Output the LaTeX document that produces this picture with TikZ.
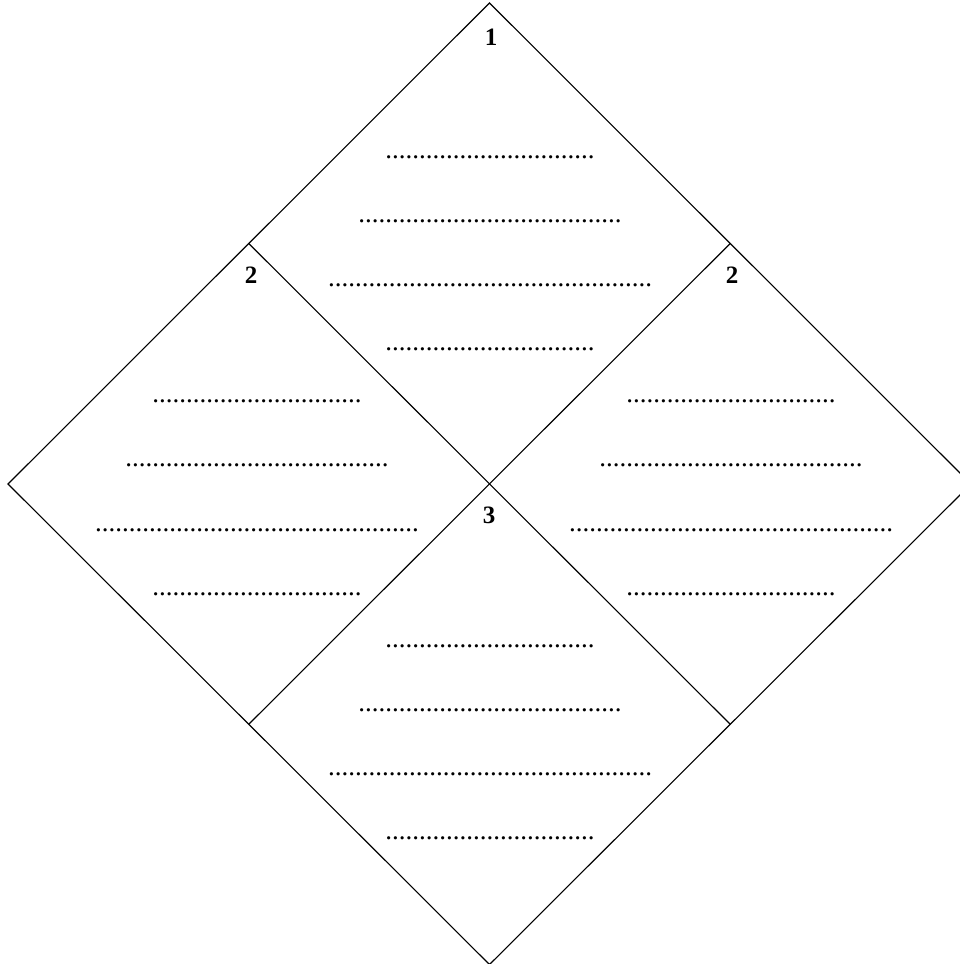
\documentclass[tikz,border=0pt]{standalone}
\usepackage{fontspec}
\setmainfont{Liberation Serif}
\usetikzlibrary{calc}
\begin{document}
\begin{tikzpicture}[x=1pt,y=-1pt,
  num/.style={font=\fontsize{25}{25}\selectfont\bfseries, inner sep=0pt},
  dots/.style={font=\fontsize{27}{27}\selectfont, inner sep=0pt},
  edge/.style={line width=1.1pt, black}]
\useasboundingbox (0,0) rectangle (960,964);
\clip (0,0) rectangle (960,964);
\coordinate (T) at (489.5,3);
\coordinate (L) at (8,484);
\coordinate (R) at (971,484);
\coordinate (B) at (489.5,964.5);
\coordinate (TL) at ($(T)!0.5!(L)$);
\coordinate (TR) at ($(T)!0.5!(R)$);
\coordinate (BL) at ($(B)!0.5!(L)$);
\coordinate (BR) at ($(B)!0.5!(R)$);
\draw[edge] (T) -- (R) -- (B) -- (L) -- cycle;
\draw[edge] (TL) -- (BR);
\draw[edge] (TR) -- (BL);
\node[num] (n1) at (491,37) {1};
\node[num] (n2l) at (251,275) {2};
\node[num] (n2r) at (732,275) {2};
\node[num] (n3) at (489,515) {3};
\newcommand{\dA}{...............................}
\newcommand{\dB}{.......................................}
\newcommand{\dC}{................................................}
\foreach \cx/\cy/\nm in {490/0/t, 257/244.5/l, 731/244.5/r, 490/489/b}{
  \node[dots,anchor=base] (\nm1) at (\cx,158+\cy) {\dA};
  \node[dots,anchor=base] (\nm2) at (\cx,222+\cy) {\dB};
  \node[dots,anchor=base] (\nm3) at (\cx,286.5+\cy) {\dC};
  \node[dots,anchor=base] (\nm4) at (\cx,350.5+\cy) {\dA};
}
\end{tikzpicture}
\end{document}
